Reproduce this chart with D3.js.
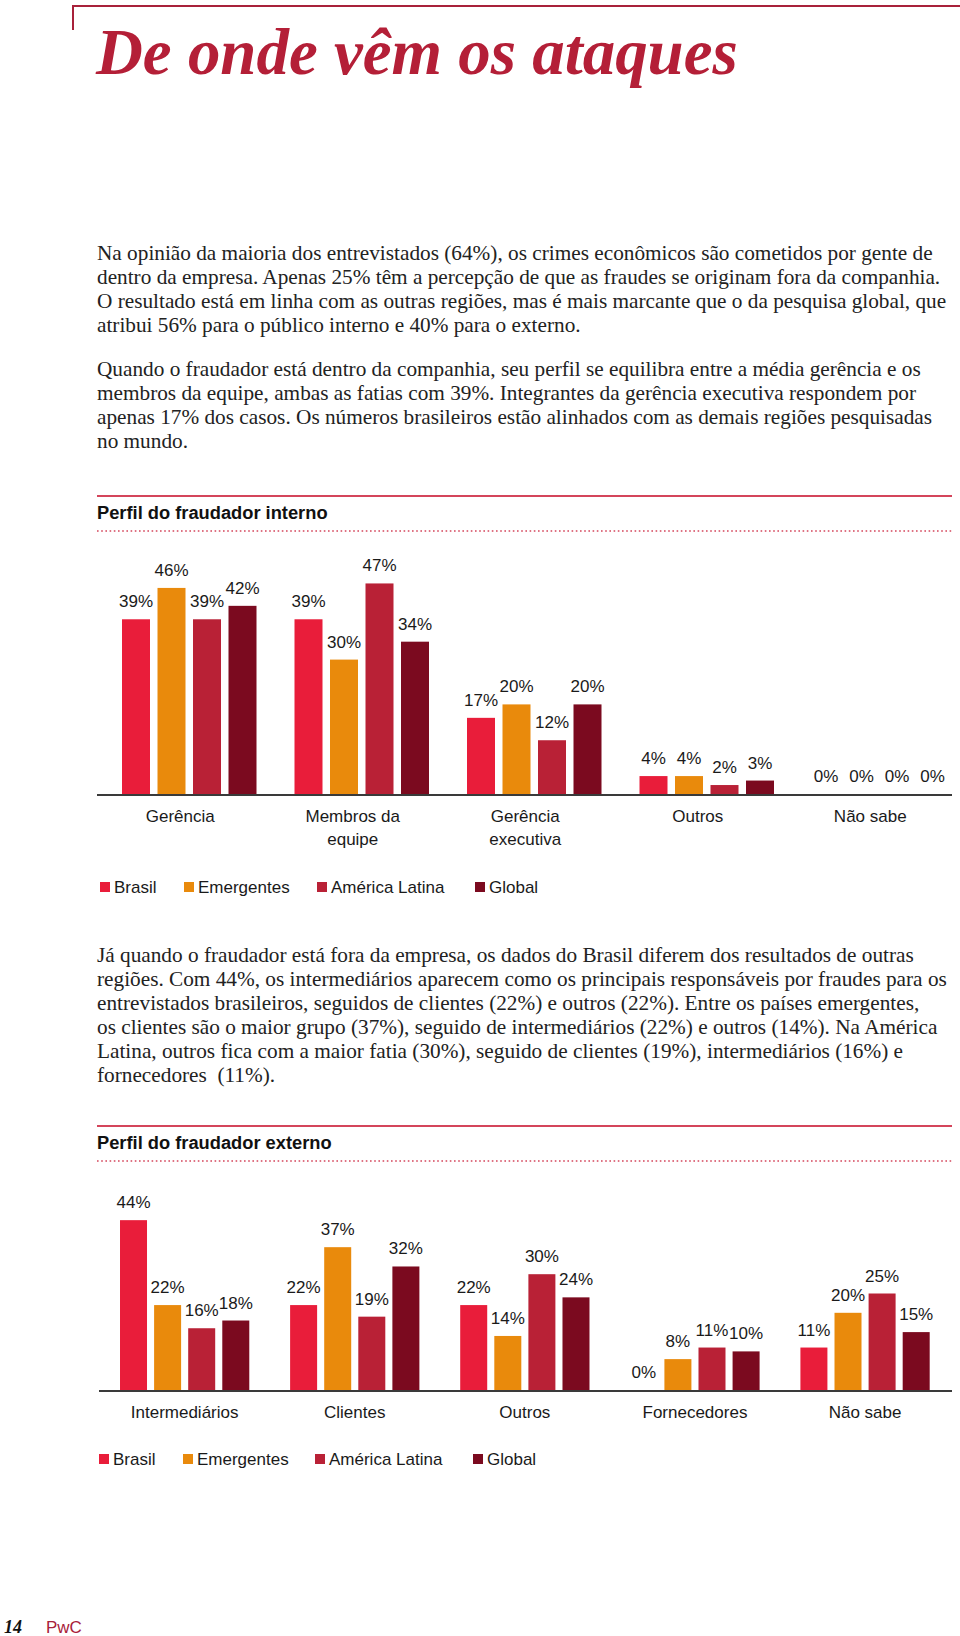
<!DOCTYPE html>
<html><head><meta charset="utf-8">
<script src="https://cdn.jsdelivr.net/npm/d3@7"></script>
<style>html,body{margin:0;padding:0;background:#fff;}svg{display:block;}</style>
</head><body>
<svg id="page" width="960" height="1636"></svg>
<script>
// ---------- data ----------
const series = ["Brasil", "Emergentes", "América Latina", "Global"];
const colors = ["#e91d3a", "#e98a0c", "#b92136", "#7b0a1f"];

const internoCats = ["Gerência", "Membros da equipe", "Gerência executiva", "Outros", "Não sabe"];
const internoCatLines = [["Gerência"], ["Membros da", "equipe"], ["Gerência", "executiva"], ["Outros"], ["Não sabe"]];
const internoBrasil = [39, 39, 17, 4, 0];
const internoEmergentes = [46, 30, 20, 4, 0];
const internoAmericaLatina = [39, 47, 12, 2, 0];
const internoGlobal = [42, 34, 20, 3, 0];

const externoCats = ["Intermediários", "Clientes", "Outros", "Fornecedores", "Não sabe"];
const externoBrasil = [44, 22, 22, 0, 11];
const externoEmergentes = [22, 37, 14, 8, 20];
const externoAmericaLatina = [16, 19, 30, 11, 25];
const externoGlobal = [18, 32, 24, 10, 15];

const titleText = "De onde vêm os ataques";
const para1 = [
  "Na opinião da maioria dos entrevistados (64%), os crimes econômicos são cometidos por gente de",
  "dentro da empresa. Apenas 25% têm a percepção de que as fraudes se originam fora da companhia.",
  "O resultado está em linha com as outras regiões, mas é mais marcante que o da pesquisa global, que",
  "atribui 56% para o público interno e 40% para o externo."
];
const para2 = [
  "Quando o fraudador está dentro da companhia, seu perfil se equilibra entre a média gerência e os",
  "membros da equipe, ambas as fatias com 39%. Integrantes da gerência executiva respondem por",
  "apenas 17% dos casos. Os números brasileiros estão alinhados com as demais regiões pesquisadas",
  "no mundo."
];
const para3 = [
  "Já quando o fraudador está fora da empresa, os dados do Brasil diferem dos resultados de outras",
  "regiões. Com 44%, os intermediários aparecem como os principais responsáveis por fraudes para os",
  "entrevistados brasileiros, seguidos de clientes (22%) e outros (22%). Entre os países emergentes,",
  "os clientes são o maior grupo (37%), seguido de intermediários (22%) e outros (14%). Na América",
  "Latina, outros fica com a maior fatia (30%), seguido de clientes (19%), intermediários (16%) e",
  "fornecedores  (11%)."
];
const heading1 = "Perfil do fraudador interno";
const heading2 = "Perfil do fraudador externo";
const pageNumber = "14";
const brand = "PwC";

// ---------- drawing ----------
const svg = d3.select("#page");
const accent = "#a8213a";
const SERIF = "'Liberation Serif', 'DejaVu Serif', serif";
const SANS = "'Liberation Sans', Arial, sans-serif";
const LBL = 17;

// top corner rule
svg.append("line").attr("x1", 72).attr("x2", 960).attr("y1", 6).attr("y2", 6).attr("stroke", accent).attr("stroke-width", 2);
svg.append("line").attr("x1", 73).attr("x2", 73).attr("y1", 5).attr("y2", 30).attr("stroke", accent).attr("stroke-width", 2);

// title, fitted to target width
const title = svg.append("text").attr("x", 96).attr("y", 74)
  .attr("font-family", SERIF).attr("font-style", "italic").attr("font-weight", "bold")
  .attr("font-size", 100).attr("fill", "#b41f37").text(titleText);
const tw = title.node().getComputedTextLength();
title.attr("font-size", 100 * 642 / tw);

// body text
const probe = svg.append("text").attr("font-family", SERIF).attr("font-size", 100).text(para1[2]);
const bodySize = 100 * 850 / probe.node().getComputedTextLength();
probe.remove();
function para(lines, y0) {
  svg.append("g").selectAll("text").data(lines).join("text")
    .attr("x", 97).attr("y", (d, i) => y0 + i * 24)
    .attr("font-family", SERIF).attr("font-size", bodySize).attr("fill", "#222")
    .style("white-space", "pre").text(d => d);
}
para(para1, 260);
para(para2, 376);
para(para3, 962);

function chart(cfg) {
  const g = svg.append("g");
  g.append("line").attr("x1", 97).attr("x2", 952).attr("y1", cfg.ruleY).attr("y2", cfg.ruleY)
    .attr("stroke", "#d4455b").attr("stroke-width", 2);
  g.append("text").attr("x", 97).attr("y", cfg.ruleY + 23).attr("font-family", SANS)
    .attr("font-weight", "bold").attr("font-size", 18.3).attr("fill", "#111").text(cfg.heading);
  g.append("line").attr("x1", 97).attr("x2", 952).attr("y1", cfg.ruleY + 35).attr("y2", cfg.ruleY + 35)
    .attr("stroke", "#d4455b").attr("stroke-width", 1.6).attr("stroke-dasharray", "1.6,2.6");

  const x = d3.scaleBand().domain(cfg.cats).range([cfg.x0, cfg.x1])
    .paddingInner(cfg.pad).paddingOuter(cfg.pad / 2);
  const xi = d3.scaleBand().domain(series).range([0, x.bandwidth()]).paddingInner(cfg.innerPad).paddingOuter(0);
  const y = d3.scaleLinear().domain([0, 50]).range([cfg.baseY, cfg.baseY - cfg.h50]);

  const rows = [];
  cfg.cats.forEach((c, ci) => series.forEach((s, si) => rows.push({ c, s, si, v: cfg.values[si][ci] })));

  g.append("g").selectAll("rect").data(rows.filter(d => d.v > 0)).join("rect")
    .attr("x", d => x(d.c) + xi(d.s)).attr("width", xi.bandwidth())
    .attr("y", d => y(d.v)).attr("height", d => y(0) - y(d.v))
    .attr("fill", d => colors[d.si]);

  g.append("g").selectAll("text").data(rows).join("text")
    .attr("x", d => x(d.c) + xi(d.s) + xi.bandwidth() / 2)
    .attr("y", d => y(d.v) - 12)
    .attr("text-anchor", "middle").attr("font-family", SANS).attr("font-size", LBL).attr("fill", "#1a1a1a")
    .text(d => d.v + "%");

  g.append("line").attr("x1", cfg.axisX0).attr("x2", 952).attr("y1", cfg.baseY + 1).attr("y2", cfg.baseY + 1)
    .attr("stroke", "#3a3a3a").attr("stroke-width", 2);

  const lab = g.append("g").selectAll("text").data(cfg.cats).join("text")
    .attr("text-anchor", "middle").attr("font-family", SANS).attr("font-size", LBL).attr("fill", "#1a1a1a")
    .attr("x", d => x(d) + x.bandwidth() / 2 + cfg.labelDx).attr("y", cfg.baseY + 28);
  lab.selectAll("tspan").data((d, i) => cfg.catLines[i]).join("tspan")
    .attr("x", function () { return d3.select(this.parentNode).attr("x"); })
    .attr("dy", (d, i) => i === 0 ? 0 : 23).text(d => d);

  const legend = g.append("g");
  series.forEach((s, i) => {
    legend.append("rect").attr("x", cfg.legendX[i]).attr("y", cfg.legendY - 11).attr("width", 10).attr("height", 10)
      .attr("fill", colors[i]);
    legend.append("text").attr("x", cfg.legendX[i] + 14).attr("y", cfg.legendY)
      .attr("font-family", SANS).attr("font-size", LBL).attr("fill", "#1a1a1a").text(s);
  });
}

chart({
  heading: heading1, ruleY: 496, baseY: 794, h50: 224,
  cats: internoCats, catLines: internoCatLines,
  values: [internoBrasil, internoEmergentes, internoAmericaLatina, internoGlobal],
  x0: 103, x1: 965.5, pad: 0.2203, innerPad: 0.2113, labelDx: -9, axisX0: 97,
  legendX: [100, 184, 317, 475], legendY: 893
});
chart({
  heading: heading2, ruleY: 1126, baseY: 1390, h50: 193,
  cats: externoCats, catLines: externoCats.map(d => [d]),
  values: [externoBrasil, externoEmergentes, externoAmericaLatina, externoGlobal],
  x0: 99.6, x1: 950.1, pad: 0.24, innerPad: 0.208, labelDx: 0, axisX0: 99,
  legendX: [99, 183, 315, 473], legendY: 1465
});

// footer
svg.append("text").attr("x", 4).attr("y", 1633).attr("font-family", SERIF).attr("font-style", "italic")
  .attr("font-weight", "bold").attr("font-size", 18).attr("fill", "#111").text(pageNumber);
svg.append("text").attr("x", 46).attr("y", 1633).attr("font-family", SANS).attr("font-size", 17)
  .attr("fill", accent).text(brand);
</script>
</body></html>
